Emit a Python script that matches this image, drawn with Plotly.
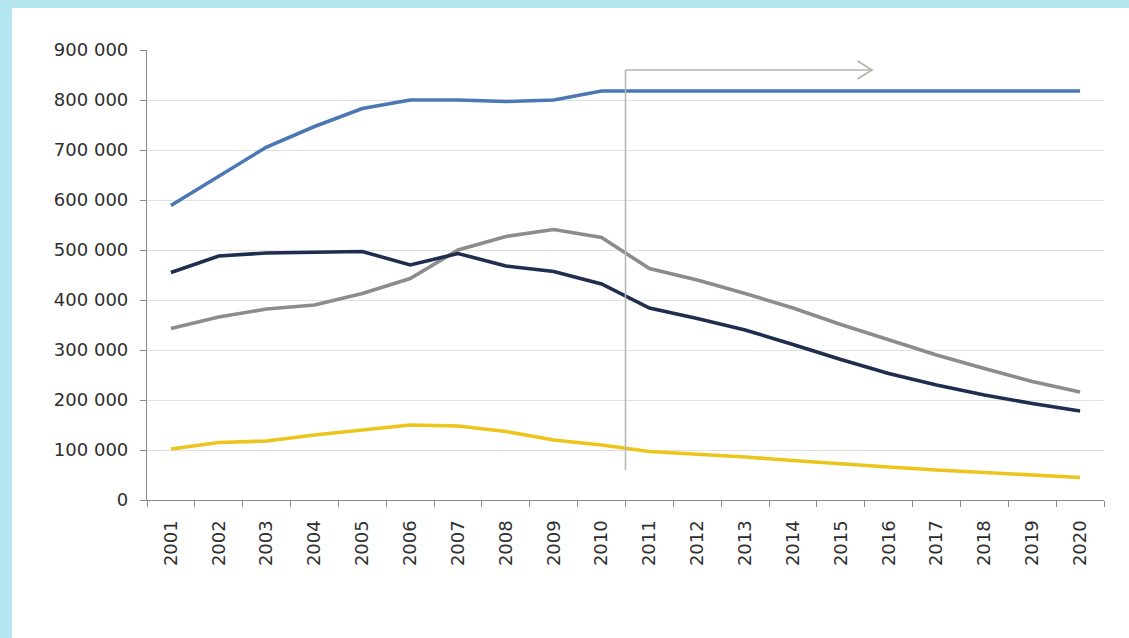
"""
Line chart: four series 2001-2020 with a projection marker after 2010
"""

import plotly.graph_objects as go

# --- data -----------------------------------------------------------------
years = [str(y) for y in range(2001, 2021)]

series_blue = [589000, 648000, 706000, 747000, 783000, 800000, 800000, 797000, 800000, 818000,
               818000, 818000, 818000, 818000, 818000, 818000, 818000, 818000, 818000, 818000]
series_navy = [455000, 488000, 494000, 495000, 497000, 470000, 493000, 468000, 457000, 432000,
               384000, 363000, 340000, 311000, 281000, 253000, 230000, 210000, 193000, 178000]
series_gray = [343000, 366000, 382000, 390000, 413000, 443000, 500000, 527000, 541000, 525000,
               463000, 440000, 413000, 384000, 351000, 320000, 290000, 263000, 237000, 216000]
series_yellow = [102000, 115000, 118000, 130000, 140000, 150000, 148000, 137000, 120000, 110000,
                 97000, 92000, 86000, 79000, 72000, 66000, 60000, 55000, 50000, 45000]

y_tick_values = [0, 100000, 200000, 300000, 400000, 500000, 600000, 700000, 800000, 900000]
y_tick_labels = ["0", "100 000", "200 000", "300 000", "400 000",
                 "500 000", "600 000", "700 000", "800 000", "900 000"]

# boundary between 2010 and 2011, where the projection starts
projection_start = 9.5
arrow_end = 14.65
arrow_level = 860000

# --- figure ---------------------------------------------------------------
W, H = 1129, 638
L, R, T, B = 147, 25, 50, 138
pw, ph = W - L - R, H - T - B


def px_to_paper_y(p):
    return 1 + (T - p) / ph


def px_to_paper_x(p):
    return (p - L) / pw


fig = go.Figure()

for vals, color in [(series_yellow, "#ecc51c"),
                    (series_gray, "#8c8c8c"),
                    (series_navy, "#1f2e4e"),
                    (series_blue, "#4b78b4")]:
    fig.add_trace(go.Scatter(
        x=years, y=vals, mode="lines",
        line=dict(color=color, width=3.6),
        hoverinfo="x+y"
    ))

shapes = [
    # light blue frame around the picture
    dict(type="rect", xref="paper", yref="paper", layer="below",
         x0=px_to_paper_x(0), x1=px_to_paper_x(W), y0=px_to_paper_y(H), y1=px_to_paper_y(0),
         fillcolor="#b4e6f2", line=dict(width=0)),
    dict(type="rect", xref="paper", yref="paper", layer="below",
         x0=px_to_paper_x(12), x1=px_to_paper_x(W + 5), y0=px_to_paper_y(H + 5),
         y1=px_to_paper_y(8),
         fillcolor="white", line=dict(width=0)),
    # projection start line
    dict(type="line", xref="x", yref="y", x0=projection_start, x1=projection_start,
         y0=60000, y1=arrow_level, line=dict(color="#b5b5b0", width=1.5)),
    # horizontal arrow shaft
    dict(type="line", xref="x", yref="y", x0=projection_start, x1=arrow_end,
         y0=arrow_level, y1=arrow_level, line=dict(color="#b5b5b0", width=1.5)),
    # chevron head
    dict(type="path", xref="x", yref="y",
         path=f"M {arrow_end - 0.3} {arrow_level + 18000} L {arrow_end} {arrow_level} "
              f"L {arrow_end - 0.3} {arrow_level - 18000}",
         line=dict(color="#b5b5b0", width=1.8)),
    # blanked-out label box at the top
    dict(type="rect", xref="x", yref="paper", layer="above",
         x0=10.72, x1=13.33, y0=px_to_paper_y(66), y1=px_to_paper_y(40),
         fillcolor="white", line=dict(width=0)),
]

fig.update_layout(
    width=W, height=H,
    margin=dict(l=L, r=R, t=T, b=B),
    paper_bgcolor="white",
    plot_bgcolor="white",
    showlegend=False,
    font=dict(family="DejaVu Sans", size=18, color="#2e2e2e"),
    shapes=shapes,
)

fig.update_xaxes(
    type="category",
    range=[-0.5, 19.5],
    tickangle=-90,
    ticks="outside", tickson="boundaries", ticklen=6, tickcolor="#8a8a8a",
    showline=True, linecolor="#8a8a8a", linewidth=1.2,
    showgrid=False, zeroline=False,
    ticklabelstandoff=12,
    tickfont=dict(size=18),
)

fig.update_yaxes(
    range=[0, 900000],
    tickvals=y_tick_values, ticktext=y_tick_labels,
    ticks="outside", ticklen=6, tickcolor="#8a8a8a",
    showline=True, linecolor="#8a8a8a", linewidth=1.2,
    showgrid=True, gridcolor="#e0e0e0", gridwidth=1,
    zeroline=False,
    ticklabelstandoff=8,
    tickfont=dict(size=18),
)

# drop the page's default body margin so the figure sits at the window origin
fig.write_html("out.html", config={"displayModeBar": False},
               post_script="document.body.style.margin='0';")
